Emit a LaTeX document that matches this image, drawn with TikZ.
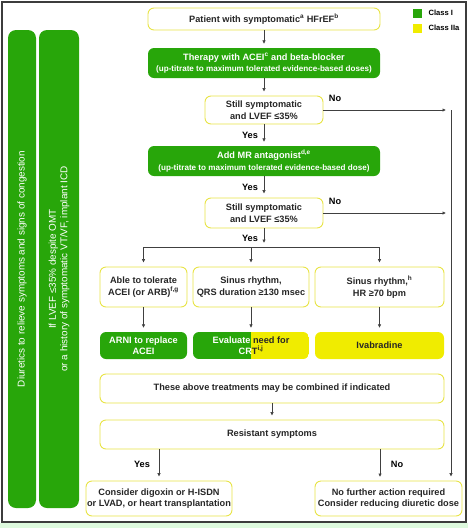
\documentclass[tikz,border=0pt]{standalone}
\usepackage{fontspec}
\setmainfont{Liberation Sans}
\usetikzlibrary{arrows.meta}
\definecolor{classgreen}{RGB}{40,166,10}
\definecolor{classyellow}{RGB}{240,236,0}
\definecolor{lineyellow}{RGB}{232,228,70}
\definecolor{framegray}{RGB}{60,60,60}
\definecolor{mint}{RGB}{222,250,222}
\newcommand{\smalltxt}{\fontsize{8.1}{11}\selectfont}

\begin{document}
\begin{tikzpicture}[x=1pt,y=-1pt,
    font=\fontsize{9.2}{11.5}\selectfont\bfseries,
    box/.style={rounded corners=6pt, align=center, inner sep=1pt, text=black!85},
    plain/.style={box, draw=lineyellow, line width=0.9pt, fill=white},
    cls1/.style={box, fill=classgreen, text=white},
    cls2/.style={box, fill=classyellow},
    side/.style={cls1, rotate=90, rounded corners=8pt, minimum width=478pt,
      font=\fontsize{9.9}{11.5}\selectfont},
    arr/.style={-{Latex[length=3.5pt,width=3.5pt]}, draw=black!75, line width=0.6pt, shorten >=4pt},
    ln/.style={draw=black!75, line width=0.6pt}]
    \useasboundingbox (0,0) rectangle (468,528);
    \fill[mint] (0,523) rectangle (468,528);
    \draw[framegray, line width=1.4pt] (2,2) rectangle (466,522);

    \node[side, minimum height=28pt] (diuretics) at (22,269)
      {Diuretics to relieve symptoms and signs of congestion};
    \node[side, minimum height=40pt] (icd) at (59,269)
      {If LVEF ≤35\% despite OMT\\or a history of symptomatic VT/VF, implant ICD};

    \node[fill=classgreen, minimum size=9pt, inner sep=0pt] (key1) at (417,13) {};
    \node[fill=classyellow, minimum size=9pt, inner sep=0pt] (key2) at (417,28) {};
    \node[anchor=west, font=\fontsize{7.6}{9}\selectfont\bfseries] (class1) at (425,13) {Class I};
    \node[anchor=west, font=\fontsize{7.6}{9}\selectfont\bfseries] (class2) at (425,28) {Class IIa};

    \node[plain, minimum width=232pt, minimum height=22pt] (patient) at (264,19)
      {Patient with symptomatic\textsuperscript{a} HFrEF\textsuperscript{b}};
    \node[cls1, minimum width=232pt, minimum height=30pt] (therapy) at (264,63)
      {Therapy with ACEI\textsuperscript{c} and beta-blocker\\{\smalltxt(up-titrate to maximum tolerated evidence-based doses)}};
    \node[plain, minimum width=118pt, minimum height=28pt] (still1) at (264,110)
      {Still symptomatic\\and LVEF ≤35\%};
    \node[cls1, minimum width=232pt, minimum height=30pt] (mra) at (264,161)
      {Add MR antagonist\textsuperscript{d,e}\\{\smalltxt(up-titrate to maximum tolerated evidence-based dose)}};
    \node[plain, minimum width=118pt, minimum height=30pt] (still2) at (264,213)
      {Still symptomatic\\and LVEF ≤35\%};

    \node[plain, minimum width=87pt, minimum height=40pt] (tolerate) at (143.5,287)
      {Able to tolerate\\ACEI (or ARB)\textsuperscript{f,g}};
    \node[plain, minimum width=116pt, minimum height=40pt] (qrs) at (251,287)
      {Sinus rhythm,\\QRS duration ≥130 msec};
    \node[plain, minimum width=129pt, minimum height=40pt] (hr) at (379.5,287)
      {Sinus rhythm,\textsuperscript{h}\\HR ≥70 bpm};

    \node[cls1, minimum width=87pt, minimum height=27pt] (arni) at (143.5,345.5)
      {ARNI to replace\\ACEI};
    \begin{scope}
      \clip[rounded corners=6pt] (193,332) rectangle (309,359);
      \fill[classgreen] (193,332) rectangle (251,359);
      \fill[classyellow] (251,332) rectangle (309,359);
    \end{scope}
    \node[box, minimum width=116pt, minimum height=27pt] (crt) at (251,345.5)
      {{\color{white}Evaluate} need for\\{\color{white}CR}T\textsuperscript{i,j}};
    \node[cls2, minimum width=129pt, minimum height=27pt] (ivabradine) at (379.5,345.5)
      {Ivabradine};

    \node[plain, minimum width=344pt, minimum height=29pt] (combined) at (272,388.5)
      {These above treatments may be combined if indicated};
    \node[plain, minimum width=344pt, minimum height=29pt] (resistant) at (272,434.5)
      {Resistant symptoms};

    \node[plain, minimum width=146pt, minimum height=35pt] (digoxin) at (159,498.5)
      {Consider digoxin or H-ISDN\\or LVAD, or heart transplantation};
    \node[plain, minimum width=147pt, minimum height=35pt] (nofurther) at (388.5,498.5)
      {No further action required\\Consider reducing diuretic dose};

    \coordinate (exit1) at (450,110);
    \coordinate (exit2) at (450,213);
    \coordinate (rtop) at (451,110);
    \coordinate (split) at (264,247);
    \coordinate (left) at (143.5,247);
    \coordinate (right) at (379.5,247);
    \coordinate (noend) at (380,481);

    \draw[arr] (patient) -- (therapy);
    \draw[arr] (therapy) -- (still1);
    \draw[arr] (still1) -- (mra);
    \draw[arr] (mra) -- (still2);
    \draw[arr] (still1.east) -- (exit1);
    \draw[arr] (still2.east) -- (exit2);
    \draw[arr] (rtop) -- (rtop |- nofurther.north);
    \draw[arr] (still2.south) -- (split);
    \draw[ln] (left) -- (right);
    \foreach \top/\bot/\res in {tolerate/arni/left, qrs/crt/split, hr/ivabradine/right} {
      \draw[arr] (\res -| \top.north) -- (\top.north);
      \draw[arr] (\top) -- (\bot);
    }
    \draw[arr] (combined) -- (resistant);
    \draw[arr] (resistant.south -| digoxin.north) -- (digoxin.north);
    \draw[arr] (resistant.south -| noend) -- (noend);

    \node (no1) at (335,98) {No};
    \node (no2) at (335,201) {No};
    \node (yes1) at (250,135) {Yes};
    \node (yes2) at (250,187) {Yes};
    \node (yes3) at (250,238) {Yes};
    \node (yes4) at (142,464) {Yes};
    \node (no3) at (397,464) {No};
  \end{tikzpicture}
\end{document}
